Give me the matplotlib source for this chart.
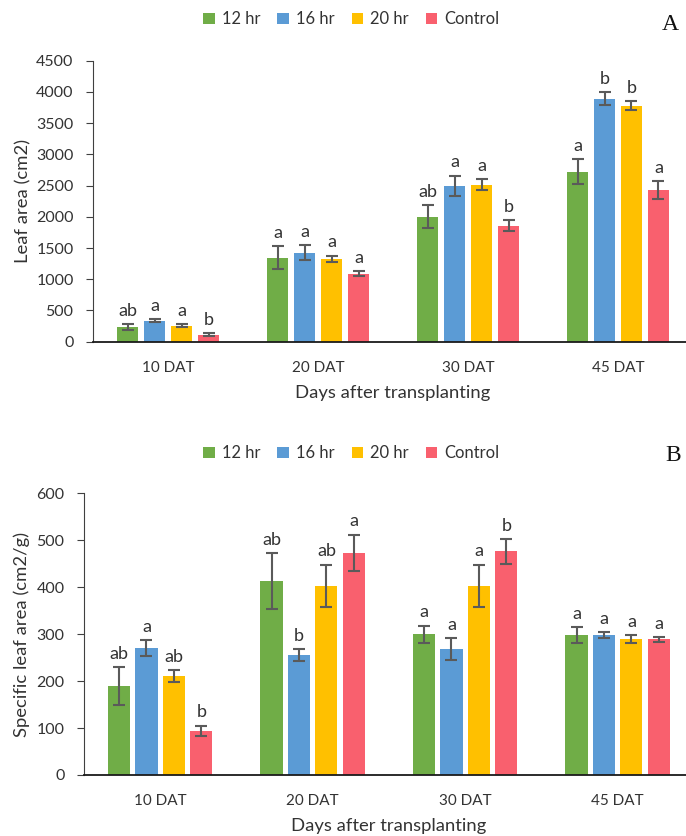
import matplotlib
matplotlib.use("Agg")
import matplotlib.pyplot as plt
import numpy as np

days = ["10 DAT", "20 DAT", "30 DAT", "45 DAT"]
treatments = ["12 hr", "16 hr", "20 hr", "Control"]
colors = ["#70AD47", "#5B9BD5", "#FFC000", "#F9606E"]

# Leaf area (cm2), one list per treatment across days
leaf_area = {
    "12 hr": [229, 1346, 2003, 2720],
    "16 hr": [336, 1426, 2500, 3890],
    "20 hr": [256, 1330, 2516, 3780],
    "Control": [112, 1090, 1855, 2430],
}
leaf_area_err = {
    "12 hr": [48, 180, 187, 200],
    "16 hr": [27, 115, 160, 107],
    "20 hr": [25, 50, 90, 75],
    "Control": [20, 40, 90, 145],
}
leaf_area_letters = {
    "12 hr": ["ab", "a", "ab", "a"],
    "16 hr": ["a", "a", "a", "b"],
    "20 hr": ["a", "a", "a", "b"],
    "Control": ["b", "a", "b", "a"],
}

# Specific leaf area (cm2/g)
sla = {
    "12 hr": [190, 413, 300, 298],
    "16 hr": [270, 255, 268, 298],
    "20 hr": [210, 403, 403, 289],
    "Control": [94, 473, 476, 289],
}
sla_err = {
    "12 hr": [40, 60, 18, 17],
    "16 hr": [17, 13, 24, 6],
    "20 hr": [13, 45, 45, 9],
    "Control": [11, 39, 26, 5],
}
sla_letters = {
    "12 hr": ["ab", "ab", "a", "a"],
    "16 hr": ["a", "b", "a", "a"],
    "20 hr": ["ab", "ab", "a", "a"],
    "Control": ["b", "a", "b", "a"],
}

plt.rcParams["font.family"] = ["Lato", "DejaVu Sans"]
text_color = "#333333"

fig = plt.figure(figsize=(6.86, 8.36), dpi=100)
ax_a = fig.add_axes([0.1356, 0.5913, 0.8746, 0.3361])
ax_b = fig.add_axes([0.1224, 0.0730, 0.8892, 0.3370])

x = np.arange(len(days))
width = 0.145
pitch = 0.18


def draw_panel(ax, values, errors, letters, ymax, ystep, ylabel, ylabel_x):
    bars = []
    for i, t in enumerate(treatments):
        pos = x + (i - 1.5) * pitch
        b = ax.bar(pos, values[t], width, yerr=errors[t], color=colors[i], label=t,
                   error_kw=dict(ecolor="#5a5a5a", elinewidth=1.5, capsize=4, capthick=1.5))
        bars.append(b)
        for p, v, e, s in zip(pos, values[t], errors[t], letters[t]):
            ax.annotate(s, (p, v + e), xytext=(0, 6), textcoords="offset points",
                        ha="center", va="baseline", fontsize=13, color=text_color)
    ax.set_xlim(-0.5, len(days) - 0.5)
    ax.set_ylim(0, ymax)
    ax.set_yticks(np.arange(0, ymax + 1, ystep))
    ax.set_xticks(x)
    ax.set_xticklabels(days)
    ax.spines["top"].set_visible(False)
    ax.spines["right"].set_visible(False)
    ax.spines["left"].set_color("#404040")
    ax.spines["bottom"].set_color("#1a1a1a")
    ax.spines["bottom"].set_linewidth(1.3)
    ax.tick_params(axis="y", length=5, color="#404040", labelsize=11.5, labelcolor=text_color, pad=9)
    ax.tick_params(axis="x", length=0, labelsize=11, labelcolor=text_color, pad=14)
    ax.set_xlabel("Days after transplanting", fontsize=13.3, color=text_color, labelpad=7)
    ax.set_ylabel(ylabel, fontsize=13.3, color=text_color)
    ax.yaxis.set_label_coords(ylabel_x, 0.5)
    return bars


bars_a = draw_panel(ax_a, leaf_area, leaf_area_err, leaf_area_letters, 4500, 500,
                    "Leaf area (cm2)", -0.102)
bars_b = draw_panel(ax_b, sla, sla_err, sla_letters, 600, 100,
                    "Specific leaf area (cm2/g)", -0.089)

for bars, ypos in [(bars_a, 0.977), (bars_b, 0.458)]:
    fig.legend(bars, treatments, loc="center", bbox_to_anchor=(0.512, ypos), ncol=4,
               frameon=False, fontsize=11.9, handlelength=0.7, handleheight=0.7,
               handletextpad=0.4, columnspacing=1.05, labelcolor=text_color)

fig.text(670 / 686, 1 - 24 / 836, "A", fontsize=17, family="Liberation Serif",
         ha="center", va="center", color="#111111")
fig.text(673 / 686, 1 - 456 / 836, "B", fontsize=17, family="Liberation Serif",
         ha="center", va="center", color="#111111")

fig.savefig("out.png", dpi=100)
